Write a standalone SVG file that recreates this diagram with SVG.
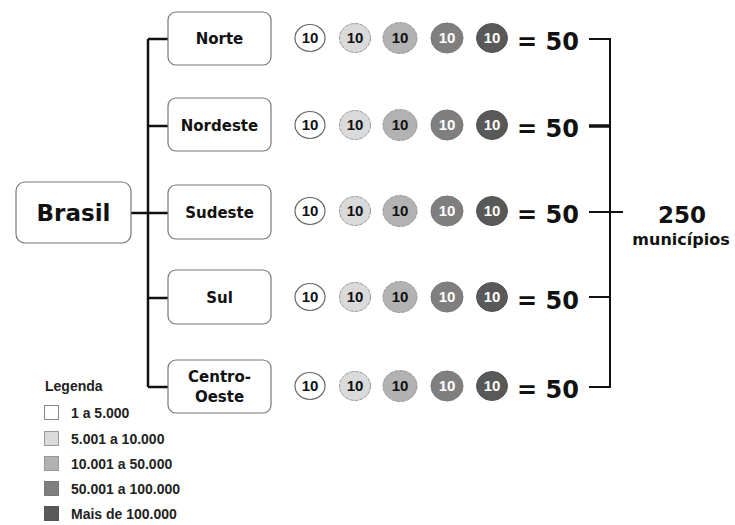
<svg xmlns="http://www.w3.org/2000/svg" width="735" height="525" viewBox="0 0 735 525">
<style>
.box{fill:#fff;stroke:#777;stroke-width:1.2}
.nt{font-family:"DejaVu Sans",sans-serif;font-weight:bold;font-size:15px;fill:#111;text-anchor:middle}
.ln{stroke:#111;stroke-width:2.5;fill:none}
.c1{fill:#fff;stroke:#666;stroke-width:1.2}
.c2{fill:#dadada;stroke:#999;stroke-width:1;stroke-dasharray:4 1}
.c3{fill:#b2b2b2;stroke:#999;stroke-width:1;stroke-dasharray:4 1}
.c4{fill:#7f7f7f;stroke:#777;stroke-width:1}
.c5{fill:#595959;stroke:#555;stroke-width:1}
.n{font-family:"Liberation Sans",Arial,sans-serif;font-weight:bold;font-size:15px;text-anchor:middle}
.eq{font-family:"DejaVu Sans",sans-serif;font-weight:bold;font-size:24px;fill:#111}
.lg{font-family:"Liberation Sans",Arial,sans-serif;font-weight:bold;font-size:14px;fill:#222}
</style>
<g id="connectors">
<path class="ln" d="M148 39V387M148 39H168M148 126H168M148 213H168M148 298H168M148 387H168M131 213H148"/>
<path class="ln" d="M589 39H610V387H589M589 212H623M589 297H610" style="stroke-width:2"/>
<path class="ln" d="M589 126H610" style="stroke-width:3.5"/>
</g>
<g id="brasil"><rect class="box" x="16" y="182" width="115" height="61" rx="9"/><text class="nt" x="73.5" y="221" style="font-size:23px">Brasil</text></g>
<g id="norte"><rect class="box" x="168" y="12" width="103" height="53" rx="8"/><text class="nt" x="219.5" y="44">Norte</text></g>
<g id="nordeste"><rect class="box" x="168" y="98" width="103" height="53" rx="8"/><text class="nt" x="219.5" y="131">Nordeste</text></g>
<g id="sudeste"><rect class="box" x="168" y="185" width="103" height="54" rx="8"/><text class="nt" x="219.5" y="218">Sudeste</text></g>
<g id="sul"><rect class="box" x="168" y="270" width="103" height="54" rx="8"/><text class="nt" x="219.5" y="303">Sul</text></g>
<g id="centro-oeste"><rect class="box" x="168" y="360" width="103" height="53" rx="8"/><text class="nt" x="219.5" y="382">Centro-</text><text class="nt" x="219.5" y="402">Oeste</text></g>
<defs>
<g id="row">
<ellipse class="c1" cx="310" cy="0" rx="15" ry="13.5"/><text class="n" x="310" y="5" fill="#111">10</text>
<ellipse class="c2" cx="355" cy="0" rx="15.5" ry="14.5"/><text class="n" x="355" y="5" fill="#111">10</text>
<ellipse class="c3" cx="400" cy="0" rx="17" ry="15.5"/><text class="n" x="400" y="5" fill="#111">10</text>
<ellipse class="c4" cx="447" cy="0" rx="16" ry="15"/><text class="n" x="447" y="5" fill="#fff">10</text>
<ellipse class="c5" cx="492" cy="0" rx="15.5" ry="14.5"/><text class="n" x="492" y="5" fill="#fff">10</text>
<text class="eq" x="517" y="12">= 50</text>
</g>
</defs>
<g id="row-norte"><use href="#row" y="38"/></g>
<g id="row-nordeste"><use href="#row" y="125"/></g>
<g id="row-sudeste"><use href="#row" y="211"/></g>
<g id="row-sul"><use href="#row" y="297"/></g>
<g id="row-centro-oeste"><use href="#row" y="386"/></g>
<g id="total">
<text class="nt" x="682" y="223" style="font-size:23px">250</text>
<text class="nt" x="681" y="245" style="font-size:16px">municípios</text>
</g>
<g id="legenda">
<text class="lg" x="45" y="391">Legenda</text>
<rect x="44.5" y="405.5" width="14" height="14" fill="#fff" stroke="#888"/><text class="lg" x="71" y="418">1 a 5.000</text>
<rect x="44.5" y="431.5" width="14" height="14" fill="#dadada" stroke="#999"/><text class="lg" x="71" y="444">5.001 a 10.000</text>
<rect x="44.5" y="456.5" width="14" height="14" fill="#b2b2b2" stroke="#999"/><text class="lg" x="71" y="469">10.001 a 50.000</text>
<rect x="44.5" y="481.5" width="14" height="14" fill="#7f7f7f" stroke="#777"/><text class="lg" x="71" y="494">50.001 a 100.000</text>
<rect x="44.5" y="506.5" width="14" height="14" fill="#595959" stroke="#555"/><text class="lg" x="71" y="519">Mais de 100.000</text>
</g>
</svg>
